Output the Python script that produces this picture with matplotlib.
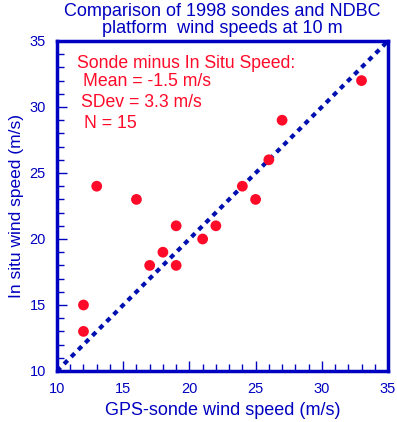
import matplotlib
matplotlib.use("Agg")
import matplotlib.pyplot as plt
from matplotlib.ticker import MultipleLocator

plt.rcParams['font.family'] = ['Liberation Sans', 'DejaVu Sans']

sonde = [12, 12, 13, 16, 17, 18, 19, 19, 21, 22, 24, 25, 26, 27, 33]
insitu = [13, 15, 24, 23, 18, 19, 21, 18, 20, 21, 24, 23, 26, 29, 32]
line_x = [10, 35]
line_y = [10, 35]
ticks = [10, 15, 20, 25, 30, 35]

blue = '#0000C0'
navy = '#0010B0'
red = '#FF0A28'

fig = plt.figure(figsize=(3.97, 4.22), dpi=100)
ax = fig.add_axes([57/397, 1-371/422, (388-57)/397, (371-41)/422])

ax.plot(line_x, line_y, color=navy, lw=3, linestyle=(0, (1.2, 1.2)), zorder=2)
ax.scatter(sonde, insitu, s=60, color=red, edgecolors='none', zorder=3)

ax.set_xlim(10, 35)
ax.set_ylim(10, 35)
ax.set_xticks(ticks)
ax.set_yticks(ticks)
ax.xaxis.set_minor_locator(MultipleLocator(1))
ax.yaxis.set_minor_locator(MultipleLocator(1))
ax.tick_params(which='both', direction='in', colors=blue, labelcolor=blue,
               labelsize=10.5, top=False, right=False)
ax.tick_params(which='major', length=7.5, width=1)
ax.tick_params(which='minor', length=5, width=1)
ax.tick_params(axis='x', pad=8)
ax.tick_params(axis='y', pad=8)
for s in ax.spines.values():
    s.set_color(blue)
    s.set_linewidth(2.5)

ax.set_xlabel('GPS-sonde wind speed (m/s)', color=blue, fontsize=13, labelpad=4)
ax.set_ylabel('In situ wind speed (m/s)', color=blue, fontsize=12.5, labelpad=4)

fig.text(222/397, 0.992, 'Comparison of 1998 sondes and NDBC\nplatform  wind speeds at 10 m',
         ha='center', va='top', color=blue, fontsize=13, linespacing=0.95)

ax.text(0.06, 0.958, 'Sonde minus In Situ Speed:', transform=ax.transAxes,
        color=red, fontsize=12.7, va='top')
ax.text(0.078, 0.903, 'Mean = -1.5 m/s', transform=ax.transAxes,
        color=red, fontsize=12.7, va='top')
ax.text(0.073, 0.838, 'SDev = 3.3 m/s', transform=ax.transAxes,
        color=red, fontsize=12.7, va='top')
ax.text(0.083, 0.775, 'N = 15', transform=ax.transAxes,
        color=red, fontsize=12.7, va='top')

fig.savefig('out.png', dpi=100)
